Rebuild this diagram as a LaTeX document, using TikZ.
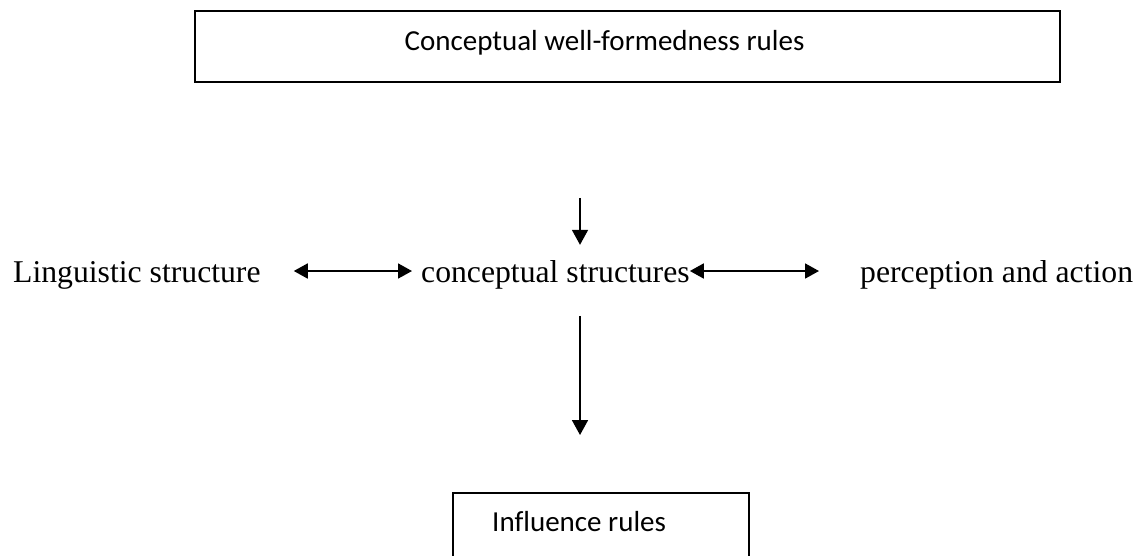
\documentclass[tikz,border=0pt]{standalone}
\usepackage{fontspec}
\setmainfont{Liberation Serif}
\newfontfamily\calibrifont[Ligatures=NoCommon]{Carlito}
\usetikzlibrary{arrows.meta}
\tikzset{
  serif label/.style={inner sep=0pt, anchor=base west, font=\fontsize{31.7}{38}\selectfont},
  rule label/.style={inner sep=0pt, font=\calibrifont\fontsize{29}{35}\selectfont},
  rule box/.style={draw, line width=1.8pt, inner sep=0pt},
  link/.style={line width=1.8pt, -{Triangle[length=15pt,width=16pt]}},
  dlink/.style={line width=1.8pt, {Triangle[length=14pt,width=15pt]}-{Triangle[length=14pt,width=15pt]}}
}
\begin{document}
\begin{tikzpicture}[x=1pt,y=-1pt]
\useasboundingbox (0,0) rectangle (1146,555);

% rule boxes
\node[rule box, minimum width=865pt, minimum height=71pt] (tb) at (627.5,46.5) {};
\node[rule label, anchor=base] (tbtext) at (604.5,50) {Conceptual well-formedness rules};
\node[rule box, line width=1.5pt, minimum width=296pt, minimum height=72pt, anchor=north west] (ib) at (452,492) {};
\node[rule label, anchor=base west] (ibtext) at (492,531) {Influence rules};

% middle row
\node[serif label] (ling) at (13,282) {Linguistic structure};
\node[serif label] (conc) at (421,282) {conceptual structures};
\node[serif label] (perc) at (860,282) {perception and action};

\coordinate (axis) at (580,0);

% connectors
\draw[link, shorten <=115pt, shorten >=15pt] (tb.south -| axis) -- (conc.north -| axis);
\draw[link, shorten <=27pt, shorten >=57pt] (conc.south -| axis) -- (ib.north -| axis);
\draw[dlink, shorten <=33pt, shorten >=9pt] (ling.east |- 0,271) -- (conc.west |- 0,271);
\draw[dlink, shorten <=0pt, shorten >=41pt] (conc.east |- 0,271) -- (perc.west |- 0,271);
\end{tikzpicture}
\end{document}
